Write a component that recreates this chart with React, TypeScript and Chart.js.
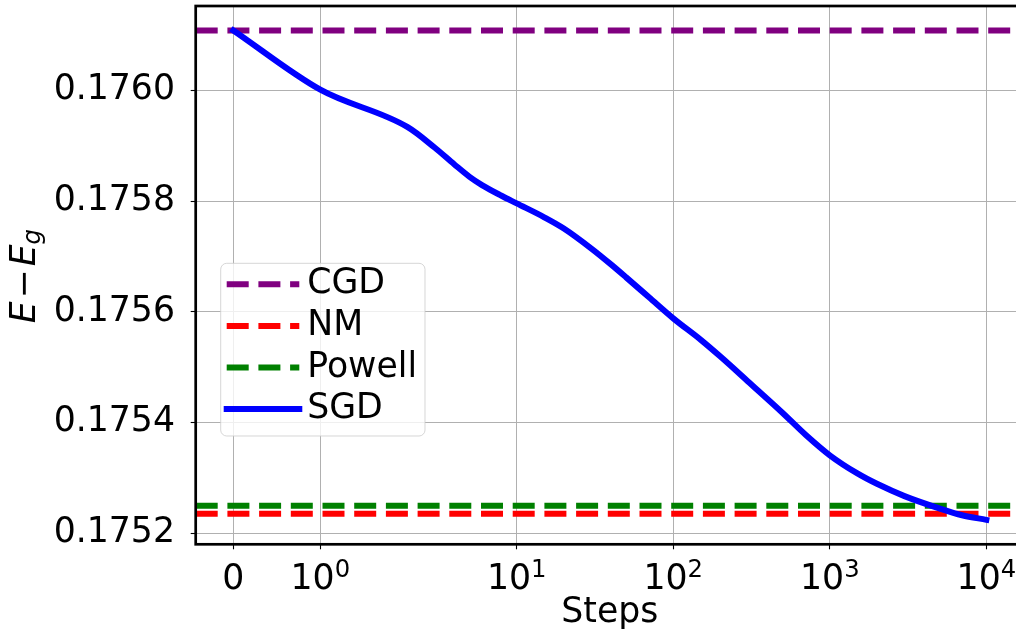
import React, { useEffect, useRef } from 'react';
import { Chart, registerables, LinearScale } from 'chart.js';

// ---------------- data ----------------
const SGD_STEPS = [0, 1, 2, 3, 4, 5, 6, 8, 10, 15, 20, 30, 40, 50, 70, 100, 150, 200, 300, 500, 700, 1000, 1500, 2000, 3000, 5000, 7000, 10000];
const SGD_VALUES = [
  0.1761085, 0.1760014, 0.1759341, 0.1758965, 0.1758663, 0.1758439, 0.175829, 0.1758097, 0.1757959,
  0.1757708, 0.1757505, 0.1757142, 0.1756856, 0.1756622, 0.1756262, 0.1755881, 0.1755492, 0.175519,
  0.1754741, 0.1754171, 0.1753777, 0.1753406, 0.1753078, 0.175289, 0.1752668, 0.1752447, 0.1752322, 0.1752239,
];
const CGD_VALUE = 0.1761085;
const NM_VALUE = 0.1752347;
const POWELL_VALUE = 0.1752492;

const SERIES_LABELS = ['CGD', 'NM', 'Powell', 'SGD'];
const SERIES_COLORS = ['#800080', '#ff0000', '#008000', '#0000ff'];

const X_TICKS = [0, 1, 10, 100, 1000, 10000];
const X_TICK_BASES = ['0', '10', '10', '10', '10', '10'];
const X_TICK_EXPONENTS = ['', '0', '1', '2', '3', '4'];
const Y_TICKS = [0.1752, 0.1754, 0.1756, 0.1758, 0.176];
const X_TITLE = 'Steps';

// ---------------- symlog transform (matplotlib style) ----------------
const LINTHRESH = 2;
const BASE = 10;
const LINSCALE_ADJ = 1 / (1 - 1 / BASE);
function symFwd(v: number) {
  const a = Math.abs(v);
  if (a <= LINTHRESH) return v * LINSCALE_ADJ;
  return Math.sign(v) * LINTHRESH * (LINSCALE_ADJ + Math.log(a / LINTHRESH) / Math.log(BASE));
}
function symInv(t: number) {
  const a = Math.abs(t);
  const lim = LINTHRESH * LINSCALE_ADJ;
  if (a <= lim) return t / LINSCALE_ADJ;
  return Math.sign(t) * LINTHRESH * Math.pow(BASE, a / LINTHRESH - LINSCALE_ADJ);
}

class SymlogScale extends LinearScale {
  static id = 'symlog';
  static defaults = {};
  buildTicks() {
    return X_TICKS.map((v) => ({ value: v }));
  }
  getPixelForValue(value: number) {
    const t0 = symFwd(this.min);
    const t1 = symFwd(this.max);
    return this.getPixelForDecimal((symFwd(value) - t0) / (t1 - t0));
  }
  getValueForPixel(pixel: number) {
    const t0 = symFwd(this.min);
    const t1 = symFwd(this.max);
    return symInv(t0 + this.getDecimalForPixel(pixel) * (t1 - t0));
  }
}

Chart.register(...registerables, SymlogScale as any);

// axis limits with 5% margins, as matplotlib does
const MARGIN = 0.05;
const tLo = symFwd(Math.min(...SGD_STEPS));
const tHi = symFwd(Math.max(...SGD_STEPS));
const X_MIN = symInv(tLo - MARGIN * (tHi - tLo));
const X_MAX = symInv(tHi + MARGIN * (tHi - tLo));
const allY = [...SGD_VALUES, CGD_VALUE, NM_VALUE, POWELL_VALUE];
const yLo = Math.min(...allY);
const yHi = Math.max(...allY);
const Y_MIN = yLo - MARGIN * (yHi - yLo);
const Y_MAX = yHi + MARGIN * (yHi - yLo);

const FAMILY = '"DejaVu Sans", sans-serif';
const FS = 34.7;
const DASH = [22, 9.7];
const LW = 6;

const overlayPlugin = {
  id: 'overlay',
  afterDraw(chart: any) {
    const { ctx, chartArea: a } = chart;
    ctx.save();
    // spines
    ctx.strokeStyle = '#000';
    ctx.lineWidth = 2.7;
    ctx.lineJoin = 'miter';
    ctx.setLineDash([]);
    ctx.strokeRect(a.left, a.top, a.right - a.left, a.bottom - a.top);

    // x tick labels (10 with superscript exponent)
    const xs = chart.scales.x;
    const baseFont = `${FS}px ${FAMILY}`;
    const expFont = `${FS * 0.7}px ${FAMILY}`;
    const baseY = a.bottom + 44.8;
    ctx.fillStyle = '#000';
    ctx.textBaseline = 'alphabetic';
    ctx.textAlign = 'left';
    X_TICKS.forEach((v, i) => {
      const px = xs.getPixelForValue(v);
      ctx.font = baseFont;
      const wb = ctx.measureText(X_TICK_BASES[i]).width;
      ctx.font = expFont;
      const we = X_TICK_EXPONENTS[i] ? ctx.measureText(X_TICK_EXPONENTS[i]).width : 0;
      const x0 = px - (wb + we) / 2;
      ctx.font = baseFont;
      ctx.fillText(X_TICK_BASES[i], x0, baseY);
      if (we) {
        ctx.font = expFont;
        ctx.fillText(X_TICK_EXPONENTS[i], x0 + wb, baseY - 12.6);
      }
    });

    // legend
    const bx = a.left + 25;
    const by = a.top + 257.3;
    const bw = 204.3;
    const bh = 172.7;
    const r = 6;
    ctx.beginPath();
    ctx.moveTo(bx + r, by);
    ctx.lineTo(bx + bw - r, by);
    ctx.arcTo(bx + bw, by, bx + bw, by + r, r);
    ctx.lineTo(bx + bw, by + bh - r);
    ctx.arcTo(bx + bw, by + bh, bx + bw - r, by + bh, r);
    ctx.lineTo(bx + r, by + bh);
    ctx.arcTo(bx, by + bh, bx, by + bh - r, r);
    ctx.lineTo(bx, by + r);
    ctx.arcTo(bx, by, bx + r, by, r);
    ctx.closePath();
    ctx.fillStyle = 'rgba(255,255,255,0.8)';
    ctx.fill();
    ctx.strokeStyle = 'rgba(204,204,204,0.8)';
    ctx.lineWidth = 1;
    ctx.stroke();

    const datasets = chart.data.datasets;
    datasets.forEach((ds: any, i: number) => {
      const cy = by + 21 + i * 41.6;
      const x0 = bx + 6;
      const x1 = bx + 78.6;
      ctx.beginPath();
      ctx.strokeStyle = ds.borderColor;
      ctx.lineWidth = ds.borderWidth;
      ctx.setLineDash(ds.borderDash || []);
      ctx.lineCap = ds.borderCapStyle || 'butt';
      ctx.moveTo(x0, cy);
      ctx.lineTo(x1, cy);
      ctx.stroke();
      ctx.setLineDash([]);
      ctx.fillStyle = '#000';
      ctx.font = `${FS}px ${FAMILY}`;
      ctx.textBaseline = 'middle';
      ctx.textAlign = 'left';
      ctx.fillText(ds.label, bx + 86.5, cy);
    });

    // y axis title: E − E_g
    const mainFont = `italic ${FS}px ${FAMILY}`;
    const opFont = `${FS}px ${FAMILY}`;
    const subFont = `italic ${FS * 0.7}px ${FAMILY}`;
    ctx.font = mainFont;
    const wE = ctx.measureText('E').width;
    ctx.font = opFont;
    const wM = ctx.measureText('\u2212').width;
    ctx.font = subFont;
    const wg = ctx.measureText('g').width;
    const gap = 3;
    const total = wE + gap + wM + gap + wE + wg;
    ctx.translate(35, (a.top + a.bottom) / 2 + 1);
    ctx.rotate(-Math.PI / 2);
    ctx.textBaseline = 'alphabetic';
    ctx.textAlign = 'left';
    ctx.fillStyle = '#000';
    let x = -total / 2;
    ctx.font = mainFont;
    ctx.fillText('E', x, 0);
    x += wE + gap;
    ctx.font = opFont;
    ctx.fillText('\u2212', x, 0);
    x += wM + gap;
    ctx.font = mainFont;
    ctx.fillText('E', x, 0);
    x += wE;
    ctx.font = subFont;
    ctx.fillText('g', x, 5);
    ctx.restore();
  },
};

export default function App() {
  const ref = useRef<HTMLCanvasElement>(null);
  useEffect(() => {
    const hline = (i: number, v: number, order: number) => ({
      label: SERIES_LABELS[i],
      data: [
        { x: X_MIN, y: v },
        { x: X_MAX, y: v },
      ],
      borderColor: SERIES_COLORS[i],
      borderWidth: LW,
      borderDash: DASH,
      borderCapStyle: 'butt',
      pointRadius: 0,
      order,
    });
    const chart = new Chart(ref.current as HTMLCanvasElement, {
      type: 'line',
      data: {
        datasets: [
          hline(0, CGD_VALUE, 4),
          hline(1, NM_VALUE, 3),
          hline(2, POWELL_VALUE, 2),
          {
            label: SERIES_LABELS[3],
            data: SGD_STEPS.map((s, i) => ({ x: s, y: SGD_VALUES[i] })),
            borderColor: SERIES_COLORS[3],
            borderWidth: LW,
            borderCapStyle: 'square',
            borderJoinStyle: 'round',
            pointRadius: 0,
            cubicInterpolationMode: 'monotone',
            order: 1,
          },
        ] as any,
      },
      options: {
        animation: false,
        responsive: false,
        events: [],
        layout: { padding: { left: 0, top: 6, right: 16, bottom: 0 } },
        plugins: { legend: { display: false }, tooltip: { enabled: false } },
        scales: {
          x: {
            type: 'symlog' as any,
            min: X_MIN,
            max: X_MAX,
            afterFit: (s: any) => {
              s.height = 90.7;
              s.paddingLeft = 0;
              s.paddingRight = 0;
            },
            grid: { color: '#b0b0b0', lineWidth: 1, drawTicks: true, tickLength: 5, tickColor: '#000', tickWidth: 1.1 },
            border: { display: false },
            ticks: { display: false, autoSkip: false, maxRotation: 0, minRotation: 0 },
            title: {
              display: true,
              text: X_TITLE,
              color: '#000',
              font: { family: FAMILY, size: FS, lineHeight: 1.2 },
              padding: { top: 0, bottom: 1 },
            },
          } as any,
          y: {
            type: 'linear',
            min: Y_MIN,
            max: Y_MAX,
            afterFit: (s: any) => {
              s.width = 195.7;
              s.paddingTop = 0;
              s.paddingBottom = 0;
            },
            afterBuildTicks: (s: any) => {
              s.ticks = Y_TICKS.map((v) => ({ value: v }));
            },
            grid: { color: '#b0b0b0', lineWidth: 1, drawTicks: true, tickLength: 5, tickColor: '#000', tickWidth: 1.1 },
            border: { display: false },
            ticks: {
              padding: 15.7,
              color: '#000',
              font: { family: FAMILY, size: FS, lineHeight: 1.2 },
              callback: (v: any) => Number(v).toFixed(4),
            },
          },
        },
      },
      plugins: [overlayPlugin],
    } as any);
    return () => chart.destroy();
  }, []);
  return (
    <div style={{ position: 'fixed', left: 0, top: 0, width: 1040, height: 635, background: '#fff' }}>
      <canvas ref={ref} width={1040} height={635} style={{ display: 'block', width: 1040, height: 635 }} />
    </div>
  );
}
